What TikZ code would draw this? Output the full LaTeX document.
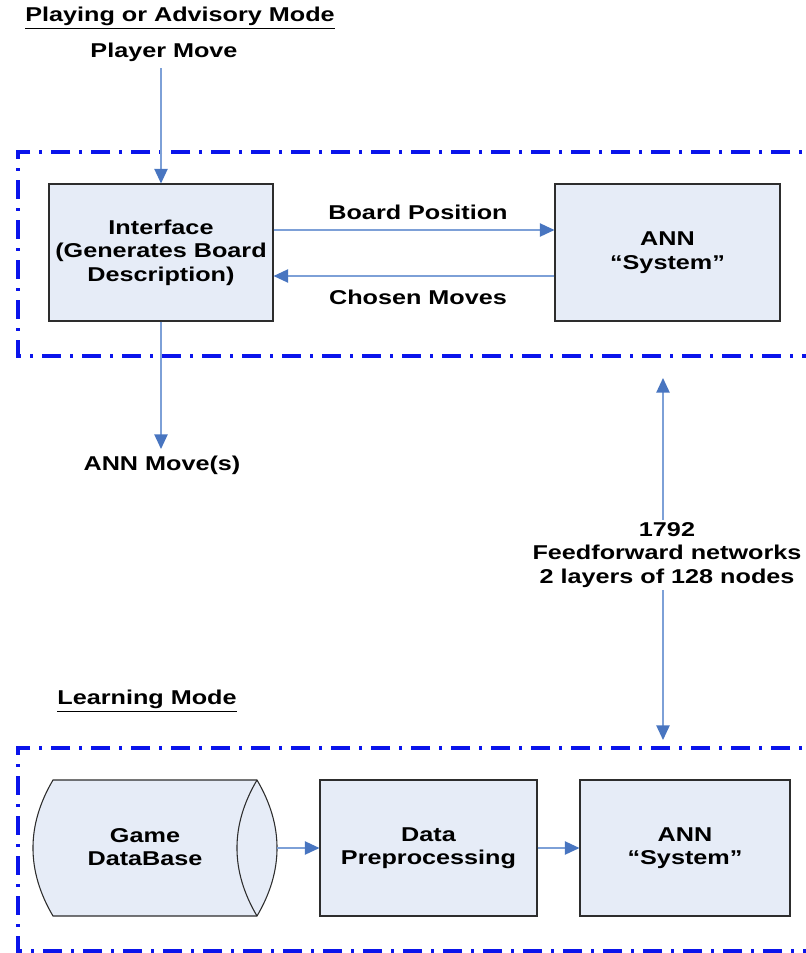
\documentclass[tikz,border=0pt]{standalone}
\usepackage{fontspec}
\setmainfont{Liberation Sans}[FakeStretch=1.26]
\usetikzlibrary{arrows.meta}
\definecolor{boxfill}{RGB}{230,236,247}
\definecolor{linkblue}{RGB}{125,160,215}
\definecolor{headblue}{RGB}{72,117,192}
\definecolor{ddblue}{RGB}{10,20,235}
\definecolor{boxedge}{RGB}{45,45,45}
\begin{document}
\begin{tikzpicture}[x=0.75pt,y=-0.75pt,
  font=\bfseries\fontsize{15}{17.6}\selectfont,
  >={Triangle[length=11pt,width=10pt,fill=headblue,color=headblue]},
  box/.style={draw=boxedge, line width=0.8pt, fill=boxfill, align=center, inner sep=0pt},
  lbl/.style={align=center, inner sep=1pt},
  link/.style={draw=linkblue, line width=1.1pt},
  dd/.style={draw=ddblue, line width=2.4pt, dash pattern=on 14pt off 7pt on 2pt off 7pt}]
\useasboundingbox (0,0) rectangle (806,953);
\clip (0,0) rectangle (806,953);

% dash-dot group frames
\draw[dd] (830,152) -- (18,152) -- (18,356) -- (830,356);
\draw[dd] (830,748) -- (18,748) -- (18,951) -- (830,951);

% titles
\node[lbl] (t1) at (180,18) {\underline{Playing or Advisory Mode}};
\node[lbl] (t2) at (147,701) {\underline{Learning Mode}};

% top row
\node[lbl] (pm) at (164,52) {Player Move};
\node[box, minimum width=168pt, minimum height=102.75pt] (iface) at (161,252.5)
  {Interface\\(Generates Board\\Description)};
\node[box, minimum width=168.75pt, minimum height=102.75pt] (ann) at (667.5,252.5)
  {ANN\\``System''};
\coordinate (bp) at (0,230);
\coordinate (cm) at (0,276);
\coordinate (pmy) at (0,68);
\coordinate (amy) at (0,449);
\draw[link,->] (iface.east |- bp) -- (ann.west |- bp);
\draw[link,->] (ann.west |- cm) -- (iface.east |- cm);
\node[lbl] (bpl) at (418,212) {Board Position};
\node[lbl] (cml) at (418,297) {Chosen Moves};
\draw[link,->] (iface.north |- pmy) -- (iface.north);
\node[lbl] (am) at (162,465) {ANN Move(s)};
\draw[link,->] (iface.south) -- (iface.south |- amy);

% vertical double arrow
\coordinate (ffT) at (663,378);
\coordinate (ffB) at (663,740);
\draw[link,<->] (ffT) -- (ffB);
\node[lbl, fill=white, inner sep=2pt] (ff) at (667,555) {1792\\Feedforward networks\\2 layers of 128 nodes};

% bottom row
\node[inner sep=0pt, minimum width=183pt, minimum height=102pt] (db) at (155,848) {};
\path[fill=boxfill, draw=boxedge, line width=0.8pt]
  (53,780) -- (257,780) .. controls (283.7,825.3) and (283.7,870.7) .. (257,916)
  -- (53,916) .. controls (26.3,870.7) and (26.3,825.3) .. (53,780) -- cycle;
\draw[boxedge, line width=0.8pt] (257,780) .. controls (230.3,825.3) and (230.3,870.7) .. (257,916);
\node[lbl] (dbl) at (145,847) {Game\\DataBase};
\node[box, minimum width=162.75pt, minimum height=102pt] (prep) at (428.5,848)
  {Data\\Preprocessing};
\node[box, minimum width=157.5pt, minimum height=102pt] (ann2) at (685,848)
  {ANN\\``System''};
\draw[link,->] (db.east) -- (prep.west);
\draw[link,->] (prep.east) -- (ann2.west);
\end{tikzpicture}
\end{document}
